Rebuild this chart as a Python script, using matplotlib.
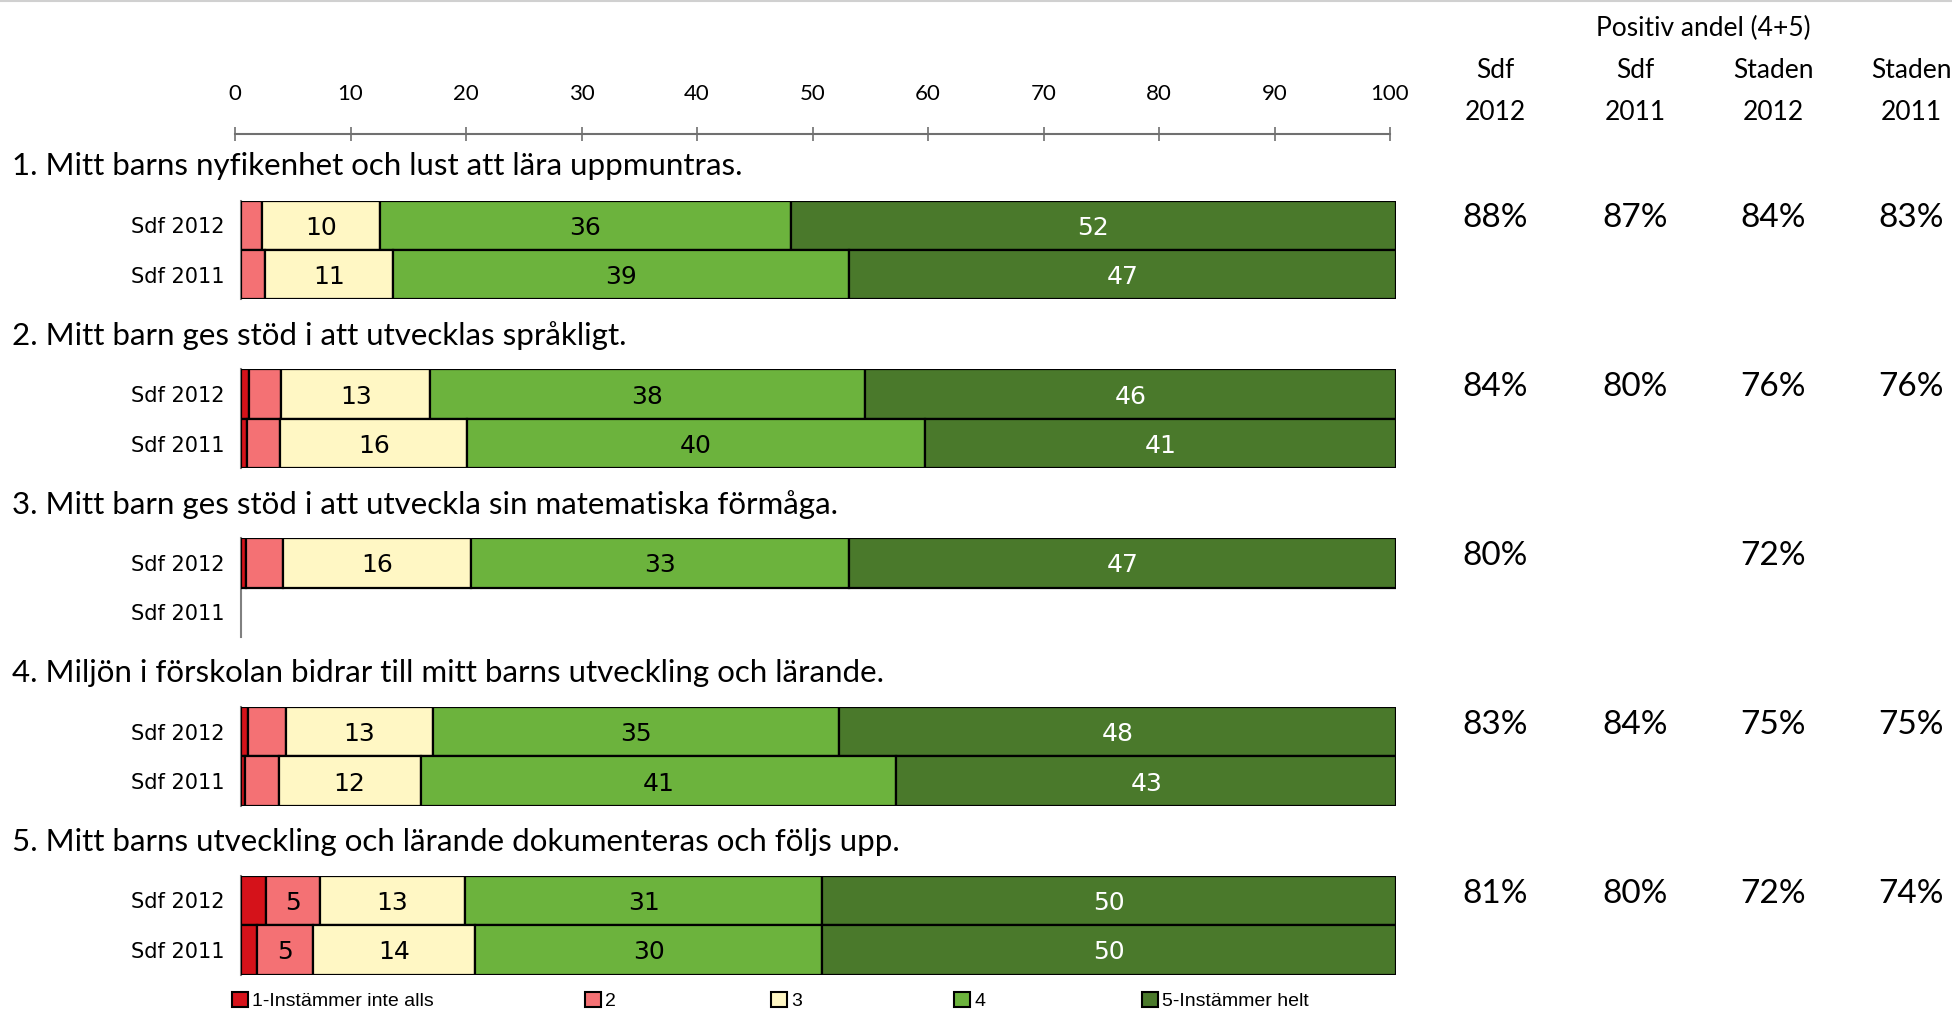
import matplotlib
matplotlib.use('Agg')
import matplotlib.pyplot as plt
from matplotlib.patches import Patch
from matplotlib.lines import Line2D
from matplotlib.transforms import ScaledTranslation

# ---------------- data ----------------
questions = [
    "1. Mitt barns nyfikenhet och lust att lära uppmuntras.",
    "2. Mitt barn ges stöd i att utvecklas språkligt.",
    "3. Mitt barn ges stöd i att utveckla sin matematiska förmåga.",
    "4. Miljön i förskolan bidrar till mitt barns utveckling och lärande.",
    "5. Mitt barns utveckling och lärande dokumenteras och följs upp.",
]
series_labels = ["Sdf 2012", "Sdf 2011"]
categories = ["1-Instämmer inte alls", "2", "3", "4", "5-Instämmer helt"]

q1_2012 = [0.0, 1.8, 10.2, 35.6, 52.4]
q1_2011 = [0.0, 2.1, 11.1, 39.4, 47.4]
q2_2012 = [0.7, 2.8, 12.9, 37.6, 46.0]
q2_2011 = [0.5, 2.9, 16.2, 39.6, 40.8]
q3_2012 = [0.4, 3.2, 16.3, 32.7, 47.4]
q3_2011 = [0.0, 0.0, 0.0, 0.0, 0.0]
q4_2012 = [0.6, 3.3, 12.7, 35.2, 48.2]
q4_2011 = [0.35, 2.9, 12.3, 41.2, 43.25]
q5_2012 = [2.2, 4.6, 12.6, 30.9, 49.7]
q5_2011 = [1.4, 4.8, 14.1, 30.0, 49.7]

col_head_top = ["Sdf", "Sdf", "Staden", "Staden"]
col_head_bottom = ["2012", "2011", "2012", "2011"]
pos_q1 = ["88%", "87%", "84%", "83%"]
pos_q2 = ["84%", "80%", "76%", "76%"]
pos_q3 = ["80%", "", "72%", ""]
pos_q4 = ["83%", "84%", "75%", "75%"]
pos_q5 = ["81%", "80%", "72%", "74%"]

x_ticks = [0, 10, 20, 30, 40, 50, 60, 70, 80, 90, 100]

groups = [(q1_2012, q1_2011), (q2_2012, q2_2011), (q3_2012, q3_2011),
          (q4_2012, q4_2011), (q5_2012, q5_2011)]
positives = [pos_q1, pos_q2, pos_q3, pos_q4, pos_q5]

# ---------------- style ----------------
colors = ["#D5121A", "#F47174", "#FFF7C4", "#6CB33D", "#4A792B"]
label_colors = ["black", "black", "black", "black", "white"]
HUM = ["Lato", "DejaVu Sans"]
NARROW = ["Liberation Sans Narrow", "Liberation Sans", "DejaVu Sans"]
VERD = ["DejaVu Sans"]

W, H = 1952, 1011
fig = plt.figure(figsize=(W / 100, H / 100), dpi=100)

def fx(px):
    return px / W

def fy(py):
    return 1 - py / H

down = ScaledTranslation(0, -0.025, fig.dpi_scale_trans)

# top thin border
fig.add_artist(Line2D([0, 1], [fy(1), fy(1)], color="#d0d0d0", lw=1.5,
                      transform=fig.transFigure))

# scale axis at top
ax0 = fig.add_axes([fx(235), fy(134), fx(1155) - fx(0), 1 / H])
ax0.set_xlim(0, 100)
ax0.set_xticks(x_ticks)
ax0.set_yticks([])
for s in ["top", "left", "right"]:
    ax0.spines[s].set_visible(False)
ax0.spines["bottom"].set_color("#707070")
ax0.spines["bottom"].set_linewidth(1.5)
ax0.tick_params(axis="x", direction="inout", length=10, width=1.2,
                color="#707070", bottom=True, top=False,
                labelbottom=False, labeltop=True, pad=16,
                labelsize=16)
for lab in ax0.get_xticklabels():
    lab.set_fontfamily(HUM)
ax0.patch.set_alpha(0)

# bar groups
left_px, width_px = 241, 1155
bar_h_px = 99
tops = [200.5, 369.3, 538.1, 706.9, 875.7]
col_x = [1495, 1635, 1773, 1911]

for gi, ((v12, v11), top) in enumerate(zip(groups, tops)):
    ax = fig.add_axes([fx(left_px), fy(top + bar_h_px), fx(width_px), bar_h_px / H])
    ax.set_xlim(0, 100)
    ax.set_ylim(1.5, -0.5)
    for row, vals in enumerate([v12, v11]):
        left = 0.0
        for ci, v in enumerate(vals):
            if v > 0:
                ax.barh(row, v, left=left, height=1.0, color=colors[ci],
                        edgecolor="black", linewidth=1.6, zorder=2)
                if v >= 4:
                    ax.text(left + v / 2, row, f"{round(v):d}", ha="center",
                            va="center", fontsize=18, family=VERD,
                            color=label_colors[ci], zorder=3,
                            transform=ax.transData + down)
            left += v
    ax.set_yticks([0, 1])
    ax.set_yticklabels(series_labels, family=VERD, fontsize=15)
    for lab in ax.get_yticklabels():
        lab.set_transform(lab.get_transform() + down)
    ax.set_xticks([])
    ax.tick_params(axis="y", length=0, pad=12)
    for s in ["top", "right", "bottom"]:
        ax.spines[s].set_visible(False)
    ax.spines["left"].set_color("#808080")
    ax.spines["left"].set_linewidth(1.5)
    ax.spines["left"].set_zorder(1)

    # question title
    fig.text(fx(12), fy(top - 34), questions[gi], ha="left", va="center",
             fontsize=22.5, family=HUM)
    # positive shares
    for cx, t in zip(col_x, positives[gi]):
        if t:
            fig.text(fx(cx), fy(top + 18), t, ha="center", va="center",
                     fontsize=24, family=HUM)

# column headers
fig.text(fx(1703), fy(28), "Positiv andel (4+5)", ha="center", va="center",
         fontsize=19, family=HUM)
for cx, a, b in zip(col_x, col_head_top, col_head_bottom):
    fig.text(fx(cx), fy(71), a, ha="center", va="center", fontsize=19, family=HUM)
    fig.text(fx(cx), fy(113), b, ha="center", va="center", fontsize=19, family=HUM)

# legend (Excel style, individual entries)
leg_x = [232, 585, 771, 954, 1142]
for cx, c, lab in zip(leg_x, colors, categories):
    h = Patch(facecolor=c, edgecolor="black", linewidth=1.5)
    fig.legend(handles=[h], labels=[lab], loc="center left",
               bbox_to_anchor=(fx(cx), fy(1001)), frameon=False,
               handlelength=0.8, handleheight=0.8, handletextpad=0.25,
               borderpad=0, borderaxespad=0,
               prop={"family": NARROW, "size": 14})

fig.savefig("out.png", dpi=100)
